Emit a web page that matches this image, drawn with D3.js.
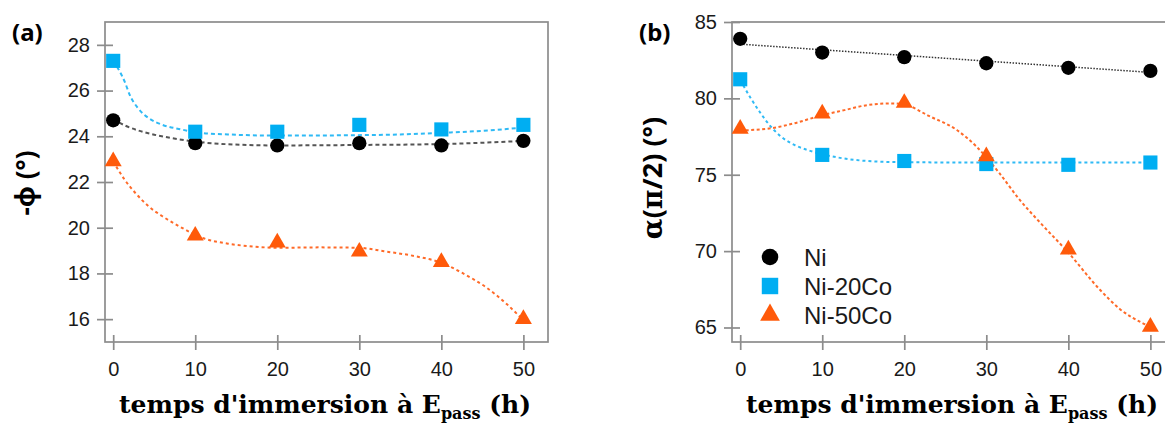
<!DOCTYPE html>
<html>
<head>
<meta charset="utf-8">
<script src="https://cdn.jsdelivr.net/npm/d3@7"></script>
<style>
  body { margin: 0; background: #fff; }
</style>
</head>
<body>
<svg id="chart" width="1165" height="426"></svg>
<script>
// immersion time (h)
const hours = [0, 10, 20, 30, 40, 50];
const seriesNames = ["Ni", "Ni-20Co", "Ni-50Co"];

// (a) -phi (deg)
const phiNi = [24.7, 23.7, 23.6, 23.7, 23.6, 23.8];
const phiNi20Co = [27.3, 24.2, 24.2, 24.5, 24.3, 24.5];
const phiNi50Co = [22.9, 19.65, 19.35, 18.95, 18.5, 16.0];

// (b) alpha(pi/2) (deg)
const alphaNi = [83.9, 83.0, 82.7, 82.3, 82.0, 81.8];
const alphaNi20Co = [81.25, 76.3, 75.9, 75.7, 75.65, 75.8];
const alphaNi50Co = [78.0, 79.0, 79.7, 76.2, 70.1, 65.05];

// fitted curves
const phiFitHoursNi = [0, 1.5, 3, 5, 7, 10, 13, 20, 30, 40, 50];
const phiFitNi = [24.75, 24.46, 24.26, 24.07, 23.93, 23.77, 23.67, 23.6, 23.62, 23.66, 23.8];
const phiFitHoursNi20Co = [0, 0.8, 1.5, 2, 3, 4.3, 6, 8, 11, 14, 20, 30, 35, 40, 45, 50];
const phiFitNi20Co = [27.3, 26.83, 26.3, 25.82, 25.24, 24.8, 24.5, 24.32, 24.14, 24.08, 24.03, 24.05, 24.08, 24.15, 24.24, 24.38];
const phiFitHoursNi50Co = [0, 1.4, 2.7, 4.3, 6, 8, 11, 14, 17, 20, 25, 30, 33, 37, 40, 42.5, 45.5, 48, 50];
const phiFitNi50Co = [22.9, 22.1, 21.52, 20.94, 20.5, 20.07, 19.54, 19.3, 19.18, 19.12, 19.14, 19.12, 18.97, 18.74, 18.47, 18.03, 17.38, 16.65, 15.95];

const alphaFitHoursNi = [0, 50];
const alphaFitNi = [83.55, 81.7];
const alphaFitHoursNi20Co = [0, 1.3, 2.5, 3.75, 5, 6.6, 8.2, 12, 15.5, 20, 30, 40, 50];
const alphaFitNi20Co = [81.2, 80.0, 79.02, 78.14, 77.49, 76.95, 76.62, 76.12, 75.9, 75.82, 75.8, 75.8, 75.8];
const alphaFitHoursNi50Co = [0, 3.75, 6.6, 10, 12.7, 15.5, 18.4, 20, 23, 26.4, 28.8, 31.6, 34, 36.5, 40, 43.8, 46.3, 49, 50];
const alphaFitNi50Co = [77.9, 78.04, 78.37, 78.9, 79.23, 79.56, 79.67, 79.6, 78.85, 77.93, 76.84, 75.1, 73.4, 71.9, 69.9, 67.5, 66.2, 65.3, 65.05];

const xTicks = [0, 10, 20, 30, 40, 50];
const phiTicks = [16, 18, 20, 22, 24, 26, 28];
const alphaTicks = [65, 70, 75, 80, 85];

const colors = { "Ni": "#000000", "Ni-20Co": "#00aef2", "Ni-50Co": "#ff5a0a" };
const lineColors = { "Ni": "#555555", "Ni-20Co": "#2fbaf5", "Ni-50Co": "#ff6a28" };
const symbols = { "Ni": d3.symbolCircle, "Ni-20Co": d3.symbolSquare, "Ni-50Co": d3.symbolTriangle };
const symbolSize = { "Ni": 160, "Ni-20Co": 200, "Ni-50Co": 125 };

const svg = d3.select("#chart");
const frameColor = "#8c8c8c";
const sans = "Liberation Sans, Arial, sans-serif";
const serif = "DejaVu Serif, serif";

function drawPanel(p) {
    const x = d3.scaleLinear().domain([-1, 53]).range([p.left, p.left + 443]);
    const y = d3.scaleLinear().domain(p.yDomain).range([342, 22]);
    const g = svg.append("g");

    // frame
    g.append("rect")
        .attr("x", p.left).attr("y", 22)
        .attr("width", 443).attr("height", 320)
        .attr("fill", "none").attr("stroke", frameColor).attr("stroke-width", 1.7);

    // axes: ticks cross the frame line
    const ya = g.append("g")
        .attr("transform", `translate(${p.left + 8},0)`)
        .call(d3.axisLeft(y).tickValues(p.yTicks).tickSize(16).tickPadding(7));
    const xa = g.append("g")
        .attr("transform", `translate(0,${342 - 7})`)
        .call(d3.axisBottom(x).tickValues(xTicks).tickSize(15).tickPadding(12));
    [ya, xa].forEach(a => {
        a.select(".domain").remove();
        a.selectAll("line").attr("stroke", frameColor).attr("stroke-width", 1.7);
        a.selectAll("text").style("font-size", "20px").style("font-family", sans).attr("fill", "#1a1a1a");
    });

    const line = d3.line().x(d => x(d[0])).y(d => y(d[1])).curve(d3.curveMonotoneX);

    p.series.forEach(s => {
        g.append("path")
            .attr("d", line(d3.zip(s.fitX, s.fitY)))
            .attr("fill", "none")
            .attr("stroke", s.lineColor || lineColors[s.name])
            .attr("stroke-width", s.width || 2)
            .attr("stroke-dasharray", s.dash);
    });
    p.series.forEach(s => {
        g.append("g").selectAll("path")
            .data(d3.zip(hours, s.values))
            .join("path")
            .attr("transform", d => `translate(${x(d[0])},${y(d[1])})`)
            .attr("d", d3.symbol().type(symbols[s.name]).size(symbolSize[s.name]))
            .attr("fill", colors[s.name]);
    });

    // panel letter
    g.append("text")
        .attr("x", p.left - 93).attr("y", 41)
        .style("font-size", "24px").style("font-weight", "bold")
        .style("font-family", "Noto Sans, sans-serif")
        .text(p.letter);

    // x title
    const xt = g.append("text")
        .attr("x", p.left + 220).attr("y", 413)
        .attr("text-anchor", "middle")
        .style("font-family", serif)
        .style("font-weight", "bold").style("font-size", "25px");
    xt.append("tspan").text("temps d'immersion à E");
    xt.append("tspan").style("font-size", "16px").attr("dy", 6).text("pass");
    xt.append("tspan").attr("dy", -6).text(" (h)");

    // y title
    const yt = g.append("text")
        .attr("transform", `translate(${p.yTitleX},${p.yTitleY}) rotate(-90)`)
        .attr("text-anchor", "middle")
        .style("font-family", "Noto Sans, sans-serif")
        .style("font-weight", "bold").style("font-size", p.yTitleSize);
    p.yTitle(yt);

    return { x, y, g };
}

drawPanel({
    left: 105, letter: "(a)", yDomain: [15, 29], yTicks: phiTicks,
    yTitleX: 35, yTitleY: 183, yTitleSize: "26px",
    yTitle: t => t.text("-φ (°)"),
    series: [
        { name: "Ni", values: phiNi, fitX: phiFitHoursNi, fitY: phiFitNi, dash: "4,3" },
        { name: "Ni-20Co", values: phiNi20Co, fitX: phiFitHoursNi20Co, fitY: phiFitNi20Co, dash: "4,3" },
        { name: "Ni-50Co", values: phiNi50Co, fitX: phiFitHoursNi50Co, fitY: phiFitNi50Co, dash: "3,3" }
    ]
});

const pb = drawPanel({
    left: 732, letter: "(b)", yDomain: [64.05, 85], yTicks: alphaTicks,
    yTitleX: 662, yTitleY: 178, yTitleSize: "27px",
    yTitle: t => {
        t.append("tspan").style("font-family", serif).text("α");
        t.append("tspan").text("(");
        t.append("tspan").style("font-family", serif).text("π");
        t.append("tspan").text("/2) (°)");
    },
    series: [
        { name: "Ni", values: alphaNi, fitX: alphaFitHoursNi, fitY: alphaFitNi, dash: "1.5,1.5", width: 1.5, lineColor: "#333" },
        { name: "Ni-20Co", values: alphaNi20Co, fitX: alphaFitHoursNi20Co, fitY: alphaFitNi20Co, dash: "3,3" },
        { name: "Ni-50Co", values: alphaNi50Co, fitX: alphaFitHoursNi50Co, fitY: alphaFitNi50Co, dash: "3,2.5" }
    ]
});

// legend inside panel (b)
const legend = pb.g.append("g").attr("transform", "translate(770,257)");
seriesNames.forEach((name, i) => {
    const row = legend.append("g").attr("transform", `translate(0,${i * 29})`);
    row.append("path")
        .attr("d", d3.symbol().type(symbols[name]).size(symbolSize[name] * 1.35))
        .attr("fill", colors[name]);
    row.append("text")
        .attr("x", 34).attr("y", 8.5)
        .style("font-size", "24px").style("font-family", sans).attr("fill", "#1a1a1a")
        .text(name);
});
</script>
</body>
</html>
